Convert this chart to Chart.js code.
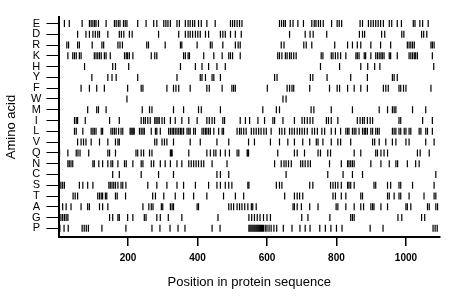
<!DOCTYPE html>
<html>
<head>
<meta charset="utf-8">
<script src="https://cdn.jsdelivr.net/npm/chart.js@4.4.0/dist/chart.umd.min.js"></script>
<style>
  html, body { margin: 0; padding: 0; background: #fff; }
</style>
</head>
<body>
<canvas id="chart" width="460" height="299"></canvas>
<script>
// rows, top to bottom
const aminoAcids = ["E", "D", "R", "K", "H", "Y", "F", "W", "M", "I", "L", "V", "Q", "N", "C", "S", "T", "A", "G", "P"];

// positions of each residue in the sequence
const posE = [17, 31, 68, 89, 94, 99, 104, 108, 115, 137, 161, 166, 172, 177, 187, 192, 197, 228, 252, 274, 283, 303, 309, 315, 322, 341, 348, 365, 373, 379, 386, 392, 403, 411, 427, 451, 495, 501, 507, 514, 521, 528, 636, 642, 648, 653, 667, 675, 689, 705, 729, 736, 741, 748, 754, 762, 786, 802, 808, 815, 868, 875, 892, 899, 906, 913, 920, 927, 935, 952, 959, 975, 987, 1021, 1026, 1040, 1048, 1064];
const posD = [55, 79, 89, 99, 106, 113, 118, 142, 175, 181, 188, 204, 212, 288, 346, 365, 373, 379, 386, 394, 401, 408, 423, 432, 466, 473, 480, 495, 509, 526, 665, 710, 724, 733, 772, 866, 875, 881, 930, 939, 988, 994, 1045, 1051, 1060];
const posR = [24, 29, 55, 60, 97, 125, 130, 171, 177, 184, 254, 259, 307, 351, 355, 399, 437, 442, 473, 509, 517, 523, 641, 649, 706, 713, 729, 795, 832, 846, 860, 870, 899, 927, 956, 1004, 1009, 1014, 1019, 1024, 1072, 1076, 1081];
const posK = [27, 41, 46, 51, 60, 65, 103, 108, 113, 118, 123, 132, 137, 149, 190, 195, 199, 204, 214, 267, 277, 283, 360, 365, 373, 377, 418, 447, 471, 490, 495, 501, 523, 631, 636, 643, 653, 658, 665, 670, 677, 684, 756, 761, 785, 790, 797, 804, 812, 827, 856, 860, 865, 880, 884, 899, 913, 918, 923, 928, 932, 937, 952, 956, 975, 1009, 1014, 1019, 1024, 1028, 1033, 1076];
const posH = [75, 156, 164, 202, 351, 394, 413, 432, 456, 480, 754, 809, 870, 890, 910, 925, 1080];
const posY = [96, 142, 154, 166, 228, 341, 408, 413, 423, 442, 447, 466, 622, 629, 725, 732, 773, 841, 889, 961, 966, 975];
const posF = [65, 89, 110, 132, 199, 238, 243, 312, 331, 338, 346, 379, 427, 434, 471, 499, 504, 509, 601, 658, 665, 672, 677, 723, 780, 802, 809, 832, 851, 870, 889, 935, 942, 949, 980, 985, 993, 1000, 1072];
const posW = [197, 646, 655];
const posM = [84, 110, 115, 137, 241, 262, 269, 331, 360, 403, 411, 466, 588, 627, 636, 727, 735, 785, 846, 923, 947, 961, 966, 971, 1019, 1057];
const posI = [46, 51, 55, 77, 147, 175, 238, 245, 250, 257, 264, 277, 281, 286, 290, 298, 305, 322, 336, 355, 375, 399, 427, 434, 442, 449, 473, 478, 523, 538, 550, 574, 593, 617, 622, 646, 679, 701, 708, 716, 724, 732, 771, 777, 785, 804, 860, 868, 875, 880, 889, 897, 904, 980, 985, 1048, 1076];
const posL = [46, 51, 70, 94, 99, 103, 108, 123, 127, 151, 156, 161, 166, 173, 180, 185, 206, 209, 212, 215, 218, 233, 238, 243, 247, 267, 279, 283, 293, 317, 322, 327, 331, 336, 341, 346, 351, 355, 360, 370, 375, 379, 389, 394, 413, 418, 423, 427, 432, 437, 447, 461, 471, 475, 514, 521, 526, 533, 540, 555, 562, 569, 576, 583, 591, 598, 612, 636, 643, 651, 665, 672, 679, 687, 694, 701, 708, 716, 730, 737, 745, 758, 766, 785, 797, 812, 827, 832, 836, 846, 851, 856, 865, 875, 880, 884, 889, 899, 904, 913, 918, 923, 961, 966, 971, 980, 985, 995, 1000, 1009, 1014, 1038, 1043, 1057, 1062, 1076];
const posV = [55, 65, 72, 79, 94, 118, 142, 164, 171, 175, 277, 283, 298, 305, 312, 331, 379, 408, 456, 490, 547, 564, 610, 636, 660, 679, 703, 723, 742, 747, 761, 785, 804, 812, 841, 904, 910, 923, 942, 961, 971, 1000, 1009, 1057, 1081];
const posQ = [3, 27, 51, 56, 62, 87, 142, 147, 164, 223, 228, 238, 245, 262, 269, 322, 325, 327, 375, 427, 437, 447, 453, 466, 480, 492, 514, 519, 543, 545, 547, 631, 679, 687, 708, 747, 754, 775, 783, 851, 870, 913, 918, 928, 937, 947, 1033, 1041, 1067];
const posN = [27, 31, 36, 41, 99, 103, 116, 127, 142, 151, 156, 171, 190, 195, 214, 238, 243, 267, 274, 293, 307, 322, 341, 355, 375, 382, 389, 396, 403, 411, 418, 442, 485, 622, 641, 649, 655, 662, 670, 697, 703, 710, 718, 725, 780, 814, 832, 836, 841, 846, 851, 899, 928, 952, 971, 976, 1004, 1028, 1038];
const posC = [156, 175, 238, 288, 331, 456, 466, 490, 655, 775, 819, 846, 875, 1086];
const posS = [3, 7, 12, 17, 60, 70, 84, 99, 145, 149, 154, 159, 164, 171, 180, 185, 194, 257, 283, 312, 341, 360, 394, 432, 456, 466, 480, 490, 499, 545, 548, 627, 636, 643, 723, 732, 783, 790, 797, 804, 814, 832, 836, 841, 851, 908, 913, 947, 956, 980, 985, 1019, 1081];
const posT = [42, 48, 55, 113, 118, 123, 127, 135, 139, 164, 169, 193, 271, 279, 303, 336, 360, 389, 427, 475, 509, 533, 651, 679, 687, 694, 703, 790, 797, 814, 827, 870, 875, 947, 952, 966, 980, 985, 1009, 1052, 1081, 1086];
const posA = [1, 12, 22, 36, 65, 84, 89, 118, 127, 142, 243, 260, 267, 272, 296, 300, 322, 327, 331, 399, 403, 490, 497, 504, 514, 521, 528, 536, 545, 555, 559, 569, 675, 679, 687, 699, 723, 747, 799, 804, 827, 851, 870, 878, 899, 904, 908, 928, 947, 1000, 1004, 1014, 1062, 1067, 1086, 1091];
const posG = [2, 7, 12, 17, 22, 27, 147, 156, 171, 175, 199, 214, 247, 252, 283, 293, 316, 355, 459, 548, 556, 564, 572, 580, 590, 600, 610, 700, 718, 781, 841, 846, 851, 977, 988, 1045, 1054];
const posP = [4, 16, 28, 68, 74, 80, 86, 125, 194, 269, 292, 321, 344, 364, 442, 465, 548, 551, 554, 557, 560, 563, 566, 569, 572, 575, 578, 581, 584, 587, 590, 595, 600, 606, 612, 620, 628, 647, 672, 695, 710, 724, 752, 768, 784, 800, 816, 897, 934, 1078, 1084, 1090];

const rows = [posE, posD, posR, posK, posH, posY, posF, posW, posM, posI, posL, posV, posQ, posN, posC, posS, posT, posA, posG, posP];

const xTicks = [200, 400, 600, 800, 1000];
const seqLength = 1098;

const fontFamily = "'Liberation Sans', Arial, sans-serif";

// one point per residue: x = position, y = row index
const points = [];
rows.forEach((positions, i) => {
    positions.forEach(p => points.push({ x: p, y: i }));
});

const ctx = document.getElementById("chart").getContext("2d");

new Chart(ctx, {
    type: "scatter",
    data: {
        datasets: [{
            data: points,
            pointStyle: "line",
            pointRotation: 90,
            pointRadius: 3.5,
            pointHoverRadius: 3.5,
            pointBorderWidth: 1.2,
            pointBorderColor: "#000",
            pointBackgroundColor: "#000"
        }]
    },
    options: {
        responsive: false,
        animation: false,
        devicePixelRatio: 1,
        layout: { padding: { top: 17, right: 20, left: 0, bottom: 0 } },
        plugins: {
            legend: { display: false },
            tooltip: { enabled: false }
        },
        scales: {
            x: {
                type: "linear",
                min: 0,
                max: seqLength,
                afterBuildTicks: scale => { scale.ticks = xTicks.map(v => ({ value: v })); },
                afterFit: scale => { scale.height = 62; },
                grid: { drawOnChartArea: false, drawTicks: true, tickLength: 9, color: "#000", lineWidth: 1.5 },
                border: { display: true, color: "#000", width: 2 },
                ticks: {
                    color: "#000",
                    padding: 6,
                    maxRotation: 0,
                    font: { family: fontFamily, size: 10, weight: "bold" },
                    callback: value => String(value)
                },
                title: {
                    display: true,
                    text: "Position in protein sequence",
                    color: "#000",
                    padding: { top: 0, bottom: 9 },
                    font: { family: fontFamily, size: 13 }
                }
            },
            y: {
                type: "linear",
                reverse: true,
                min: -0.6,
                max: 19.8,
                afterBuildTicks: scale => { scale.ticks = aminoAcids.map((a, i) => ({ value: i })); },
                afterFit: scale => { scale.width = 58.5; },
                grid: { drawOnChartArea: false, drawTicks: true, tickLength: 12, color: "#000", lineWidth: 1 },
                border: { display: true, color: "#000", width: 2 },
                ticks: {
                    color: "#000",
                    autoSkip: false,
                    padding: 5,
                    crossAlign: "center",
                    font: { family: fontFamily, size: 11 },
                    callback: value => aminoAcids[value]
                },
                title: {
                    display: true,
                    text: "Amino acid",
                    color: "#000",
                    padding: { top: 4, bottom: 0 },
                    font: { family: fontFamily, size: 13 }
                }
            }
        }
    }
});
</script>
</body>
</html>
